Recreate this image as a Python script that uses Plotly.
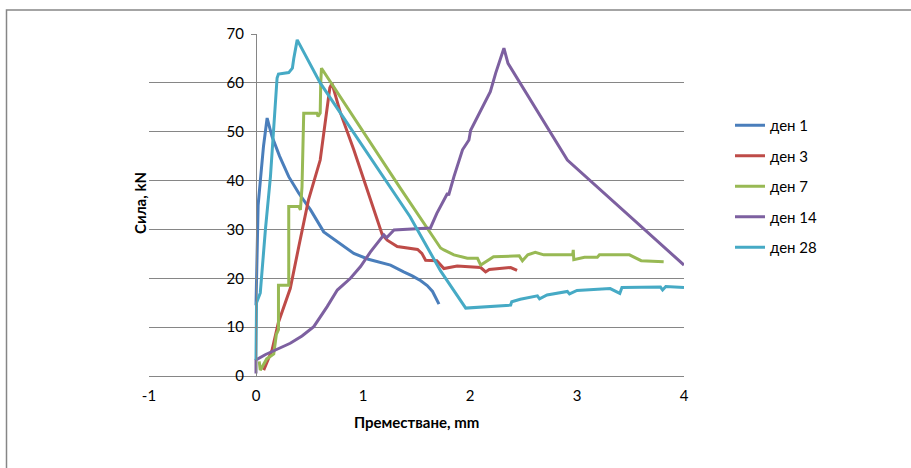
import plotly.graph_objects as go

# ---- data ----
day1_x = [0.0, 0.005, 0.01, 0.02, 0.041, 0.07, 0.104, 0.15, 0.22, 0.306, 0.40, 0.51, 0.633, 0.774, 0.914, 1.05, 1.18, 1.257, 1.38, 1.46, 1.54, 1.60, 1.65, 1.71]
day1_y = [14.5, 20, 27, 35, 40.1, 47, 52.8, 49.0, 45.0, 40.8, 37.4, 34.0, 29.5, 27.2, 25.1, 23.9, 23.2, 22.7, 21.3, 20.5, 19.5, 18.5, 17.3, 14.7]

day3_x = [0.072, 0.15, 0.21, 0.32, 0.40, 0.49, 0.60, 0.63, 0.69, 0.71, 0.79, 0.914, 1.01, 1.10, 1.18, 1.226, 1.32, 1.51, 1.55, 1.585, 1.69, 1.756, 1.88, 2.10, 2.146, 2.18, 2.38, 2.44]
day3_y = [1.2, 5.3, 11.0, 17.9, 26.5, 36.0, 44.2, 49.0, 59.0, 59.9, 53.8, 46.3, 40.1, 34.0, 28.9, 27.8, 26.5, 25.9, 25.1, 23.7, 23.6, 22.0, 22.5, 22.2, 21.3, 21.8, 22.2, 21.6]

day7_x = [0.03, 0.04, 0.10, 0.166, 0.19, 0.21, 0.21, 0.306, 0.306, 0.40, 0.415, 0.43, 0.446, 0.57, 0.58, 0.60, 0.605, 0.612, 1.35, 1.725, 1.756, 1.85, 1.975, 2.07, 2.10, 2.22, 2.46, 2.49, 2.54, 2.61, 2.69, 2.96, 2.965, 2.97, 3.07, 3.19, 3.21, 3.49, 3.60, 3.81]
day7_y = [3.0, 1.2, 3.5, 4.5, 8.5, 9.5, 18.6, 18.6, 34.7, 34.7, 34.0, 38.7, 53.8, 53.8, 53.1, 53.8, 60.0, 63.0, 38.4, 26.2, 25.8, 24.8, 24.1, 24.1, 22.7, 24.4, 24.6, 23.6, 24.8, 25.3, 24.8, 24.8, 25.8, 23.8, 24.3, 24.3, 24.8, 24.8, 23.6, 23.4]

day14_x = [0.0, 0.0, 0.09, 0.32, 0.43, 0.54, 0.665, 0.76, 0.883, 0.977, 1.07, 1.195, 1.22, 1.29, 1.54, 1.63, 1.69, 1.79, 1.80, 1.85, 1.93, 1.99, 2.006, 2.07, 2.146, 2.19, 2.24, 2.317, 2.355, 2.91, 4.0]
day14_y = [0.5, 3.3, 4.4, 6.7, 8.2, 10.1, 14.2, 17.6, 20.0, 22.4, 25.4, 28.9, 28.3, 29.9, 30.2, 30.3, 33.3, 37.4, 37.0, 40.8, 46.3, 48.3, 50.3, 53.1, 56.1, 58.2, 62.0, 67.1, 64.0, 44.2, 22.7]

day28_x = [0.0, 0.005, 0.04, 0.088, 0.135, 0.166, 0.197, 0.21, 0.306, 0.34, 0.353, 0.385, 0.60, 1.44, 1.725, 1.96, 2.38, 2.39, 2.47, 2.63, 2.65, 2.72, 2.91, 2.93, 3.0, 3.31, 3.40, 3.42, 3.78, 3.80, 3.83, 4.0]
day28_y = [3.3, 15.0, 17.0, 30.0, 40.8, 50.3, 61.0, 61.8, 62.1, 63.0, 65.0, 68.8, 60.0, 32.6, 21.5, 13.9, 14.5, 15.2, 15.7, 16.4, 15.8, 16.6, 17.3, 16.8, 17.5, 17.9, 16.9, 18.1, 18.2, 17.6, 18.3, 18.1]

series_names = ["ден 1", "ден 3", "ден 7", "ден 14", "ден 28"]
series_x = [day1_x, day3_x, day7_x, day14_x, day28_x]
series_y = [day1_y, day3_y, day7_y, day14_y, day28_y]
colors = ["#4A7EBB", "#BE4B48", "#98B954", "#7D60A0", "#46AAC5"]

x_ticks = [-1, 0, 1, 2, 3, 4]
x_tick_labels = ["-1", "0", "1", "2", "3", "4"]
y_ticks = [0, 10, 20, 30, 40, 50, 60, 70]

FONT = "Lato, 'Open Sans', sans-serif"
FS = 15

fig = go.Figure()
for i, (n, xs, ys, c) in enumerate(zip(series_names, series_x, series_y, colors)):
    fig.add_trace(go.Scatter(x=xs, y=ys, mode="lines", name=n,
                             line=dict(color=c, width=3),
                             legendgroup="g%d" % i))

W, H = 911, 468
L, T = 149, 34
PW, PH = 535, 342
R = W - L - PW
B = H - T - PH


def px_x(v):
    return (v - L) / PW


def px_y(v):
    return (T + PH - v) / PH


fig.update_layout(
    width=W, height=H,
    margin=dict(l=L, r=R, t=T, b=B),
    paper_bgcolor="white", plot_bgcolor="white",
    font=dict(family=FONT, size=FS, color="#000000"),
    xaxis=dict(range=[-1, 4], tickvals=x_ticks, ticktext=x_tick_labels,
               showgrid=False, zeroline=False,
               showline=True, linecolor="#868686", linewidth=1,
               ticks="", tickfont=dict(size=FS, family=FONT), ticklabelstandoff=6),
    yaxis=dict(range=[0, 70], tickvals=y_ticks, showgrid=True, gridcolor="#868686",
               gridwidth=1, zeroline=False, showline=True, linecolor="#868686",
               linewidth=1, anchor="free", position=0.2, ticks="outside",
               ticklen=5, tickcolor="#868686", tickfont=dict(size=FS, family=FONT),
               ticklabelstandoff=4),
    showlegend=True,
    legend=dict(x=px_x(730), y=px_y(109), xanchor="left", yanchor="top",
                font=dict(size=FS, family=FONT), tracegroupgap=8,
                bgcolor="rgba(0,0,0,0)"),
    annotations=[
        dict(text="<b>Преместване, mm</b>", xref="paper", yref="paper",
             x=px_x(416), y=px_y(422), showarrow=False,
             font=dict(size=FS, family=FONT), xanchor="center", yanchor="middle"),
        dict(text="<b>Сила, kN</b>", xref="paper", yref="paper",
             x=px_x(140), y=px_y(203), showarrow=False, textangle=-90,
             font=dict(size=FS, family=FONT), xanchor="center", yanchor="middle"),
    ],
    shapes=[
        dict(type="rect", xref="paper", yref="paper",
             x0=px_x(6.5), x1=px_x(930),
             y0=px_y(490), y1=px_y(10),
             line=dict(color="#868686", width=1.5), fillcolor="rgba(0,0,0,0)", layer="below"),
    ],
)

fig.write_html("out.html", config={"displayModeBar": False},
               post_script="document.body.style.margin='0';")
